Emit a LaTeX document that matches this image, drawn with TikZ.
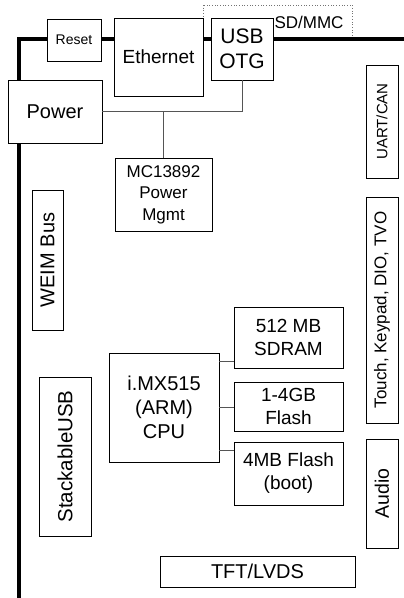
\documentclass[tikz,border=0pt]{standalone}
\usepackage{fontspec}
\setmainfont{Liberation Sans}
\usepackage{xcolor}
\usepackage{tikz}
\definecolor{wiregray}{HTML}{555555}
\tikzset{
  blkbus/.style={line width=4pt, draw=black, line join=miter},
  blkbox/.style={draw=black, fill=white, line width=0.9pt, inner sep=0pt, align=center, font=\fontsize{19}{24}\selectfont},
  blkside/.style={blkbox, rotate=90, minimum height=32pt},
  blkwire/.style={line width=1pt, draw=wiregray},
  blkdot/.style={line width=0.7pt, draw=black!55, dotted},
}

\begin{document}
\begin{tikzpicture}[x=1pt, y=-1pt]
\useasboundingbox (0,0) rectangle (404,598);
% card outline
\draw[blkdot] (203,5) rectangle (352,39);
\coordinate (busend) at (19,598);
\coordinate (buscorner) at (19,39);
\coordinate (busright) at (404,39);
\draw[blkbus] (busend) -- (buscorner) -- (busright);
\node[anchor=base, font=\fontsize{17}{20}\selectfont] (sdmmc) at (309,28.5) {SD/MMC};
% top row
\node[blkbox, minimum width=54pt, minimum height=42pt, font=\fontsize{14}{16}\selectfont] (reset) at (74,40) {Reset};
\node[blkbox, minimum width=89pt, minimum height=78pt] (eth) at (158.5,57) {Ethernet};
\node[blkbox, minimum width=62pt, minimum height=62pt, font=\fontsize{21}{25}\selectfont] (usb) at (242,49) {USB\\OTG};
\node[blkbox, minimum width=94pt, minimum height=63pt, font=\fontsize{20}{24}\selectfont] (pwr) at (55,111.5) {Power};
\node[blkbox, minimum width=97pt, minimum height=73pt, font=\fontsize{17}{21.5}\selectfont] (pmic) at (163.5,194.5) {MC13892\\Power\\Mgmt};
\draw[blkwire] (pwr.east) -| (usb.south);
\draw[blkwire] (pmic.north) -- (pmic.north |- pwr.east);
% side connectors
\node[blkside, minimum width=140pt, minimum height=31pt, font=\fontsize{20}{24}\selectfont] (weim) at (47.5,260) {WEIM Bus};
\node[blkside, minimum width=159pt, minimum height=52pt, font=\fontsize{20.5}{24}\selectfont] (susb) at (65,456.5) {StackableUSB};
\node[blkside, minimum width=113pt, font=\fontsize{15}{18}\selectfont] (uart) at (382,121.5) {UART/CAN};
\node[blkside, minimum width=226pt, font=\fontsize{17}{20}\selectfont] (touch) at (382,310) {Touch, Keypad, DIO, TVO};
\node[blkside, minimum width=109pt, font=\fontsize{19.5}{24}\selectfont] (audio) at (382,493.5) {Audio};
% cpu and memory
\node[blkbox, minimum width=110pt, minimum height=109pt, font=\fontsize{20}{24}\selectfont] (cpu) at (164,407.5) {i.MX515\\(ARM)\\CPU};
\node[blkbox, minimum width=109pt, minimum height=61pt, font=\fontsize{19}{23}\selectfont] (sdram) at (288.5,337.5) {512 MB\\SDRAM};
\node[blkbox, minimum width=109pt, minimum height=49pt, font=\fontsize{19}{23}\selectfont] (nand) at (288.5,406.5) {1-4GB\\Flash};
\node[blkbox, minimum width=109pt, minimum height=63pt, font=\fontsize{19}{23}\selectfont] (nor) at (288.5,473.5) {4MB Flash\\(boot)};
\draw[blkwire] ([yshift=-9pt]cpu.north east) -- ([yshift=-9pt]cpu.north east -| sdram.west);
\draw[blkwire] (cpu.east) -- (cpu.east -| nand.west);
\draw[blkwire] ([yshift=12pt]cpu.south east) -- ([yshift=12pt]cpu.south east -| nor.west);
\node[blkbox, minimum width=195pt, minimum height=31pt, font=\fontsize{20}{24}\selectfont] (tft) at (257.5,571.5) {TFT/LVDS};
\end{tikzpicture}
\end{document}
